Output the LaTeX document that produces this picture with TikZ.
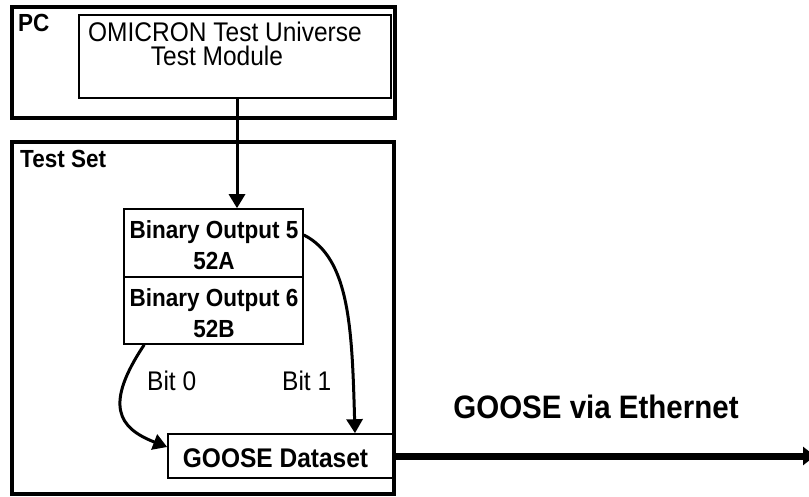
\documentclass[tikz,border=0pt]{standalone}
\usepackage{fontspec}
\setmainfont{Liberation Sans}
\usetikzlibrary{arrows.meta}
\newcommand{\vstr}[1]{\scalebox{1}[1.1]{#1}}
\begin{document}
\begin{tikzpicture}[x=1pt,y=-1pt,
  outerbox/.style={draw,line width=3.5pt,rectangle,inner sep=0pt},
  innerbox/.style={draw,line width=1.6pt,rectangle,inner sep=0pt},
  lbl/.style={inner sep=0pt,font=\fontsize{22.5}{26}\selectfont\bfseries},
  reg/.style={inner sep=0pt,font=\fontsize{24.5}{28}\selectfont},
  bo/.style={inner sep=0pt,anchor=base,font=\fontsize{22.5}{26}\selectfont\bfseries},
  conn/.style={line width=3pt,-{Triangle[length=14pt,width=16pt]}},
  eth/.style={line width=7pt,-{Triangle[length=12pt,width=18pt]}}
]
\useasboundingbox (0,0) rectangle (809,497);
% PC
\node[outerbox,minimum width=383pt,minimum height=111pt] (pc) at (203.5,62.5) {};
\node[lbl,anchor=base west] (pclbl) at (18,32) {\vstr{PC}};
\node[innerbox,minimum width=312pt,minimum height=83pt] (omi) at (235,56.5) {};
\node[reg,anchor=base] (omi1) at (225,41.5) {\vstr{OMICRON Test Universe}};
\node[reg,anchor=base] (omi2) at (217,66) {\vstr{Test Module}};
% Test set
\node[outerbox,minimum width=382pt,minimum height=352pt] (ts) at (203,318) {};
\node[lbl,anchor=base west] (tslbl) at (20,168) {\vstr{Test Set}};
\node[innerbox,minimum width=179pt,minimum height=68pt] (bo5) at (213.5,243) {};
\node[innerbox,minimum width=179pt,minimum height=67pt] (bo6) at (213.5,310.5) {};
\node[bo] (bo5a) at (214,239) {\vstr{Binary Output 5}};
\node[bo] (bo5b) at (214,270) {\vstr{52A}};
\node[bo] (bo6a) at (214,306) {\vstr{Binary Output 6}};
\node[bo] (bo6b) at (214,337) {\vstr{52B}};
\node[innerbox,minimum width=225pt,minimum height=44pt] (gd) at (280.5,456) {};
\node[inner sep=0pt,anchor=base,font=\fontsize{24.5}{28}\selectfont\bfseries] (gdt) at (275.5,467) {\vstr{GOOSE Dataset}};
\node[inner sep=0pt,anchor=base west,font=\fontsize{24.5}{28}\selectfont] (bit0) at (147,390) {\vstr{Bit 0}};
\node[inner sep=0pt,anchor=base west,font=\fontsize{24.5}{28}\selectfont] (bit1) at (282,390) {\vstr{Bit 1}};
\node[inner sep=0pt,anchor=base,font=\fontsize{29.5}{34}\selectfont\bfseries] (ethl) at (596,418) {\vstr{GOOSE via Ethernet}};
\coordinate (ethend) at (815,456);
% connectors
\draw[conn] ([xshift=2pt]omi.south) -- ([xshift=2pt]omi.south |- bo5.north);
\draw[conn] ([xshift=21pt]bo6.south west) .. controls (104,405) and (118,428) .. ([yshift=9pt]gd.west);
\draw[conn] ([yshift=8pt]bo5.east) .. controls (350,258) and (352,330) .. ([xshift=74.5pt]gd.north);
\draw[eth] (gd.east) -- (ethend);
\end{tikzpicture}
\end{document}
